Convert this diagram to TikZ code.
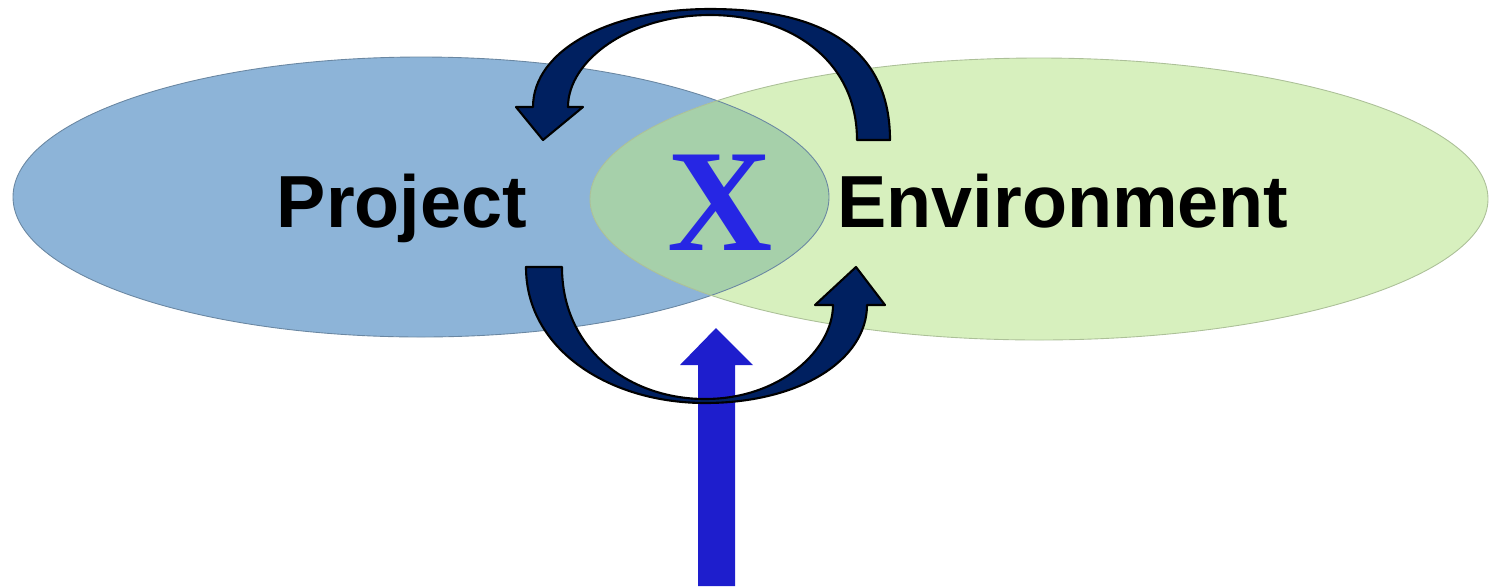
\documentclass[tikz,border=0pt]{standalone}
\usepackage{fontspec}
\setmainfont{Liberation Serif}
\newfontfamily\labelfont{Liberation Sans}
\usetikzlibrary{positioning}
\definecolor{projblue}{RGB}{141,180,216}
\definecolor{envgreen}{RGB}{215,240,190}
\definecolor{mixgreen}{RGB}{166,208,170}
\definecolor{navy}{RGB}{0,32,96}
\definecolor{xblue}{RGB}{38,38,228}
\definecolor{upblue}{RGB}{30,30,205}

\tikzset{
  labeltext/.style={font=\labelfont\bfseries\fontsize{42}{42}\selectfont, text=black, inner sep=0pt, anchor=base},
  cyclearrow/.style={fill=navy, draw=black, line width=1.2pt, line join=round},
}

\begin{document}
\begin{tikzpicture}[x=0.02cm, y=-0.02cm]
  \useasboundingbox (0,0) rectangle (1489,586);

  % the two sets
  \fill[projblue] (421,197) ellipse (408 and 140);
  \fill[envgreen] (1039,199) ellipse (449 and 141);
  \begin{scope}
    \clip (1039,199) ellipse (449 and 141);
    \fill[mixgreen] (421,197) ellipse (408 and 140);
  \end{scope}
  \draw[projblue!75!black, line width=0.5pt] (421,197) ellipse (408 and 140);
  \draw[envgreen!80!black, line width=0.5pt] (1039,199) ellipse (449 and 141);

  % labels
  \node[labeltext] (project) at (402,227) {Project};
  \node[labeltext] (environment) at (1063,227) {Environment};
  \node[inner sep=0pt, anchor=base, text=xblue,
        font=\bfseries\fontsize{83}{83}\selectfont] (cross) at (720,250) {X};

  % input arrow from below
  \fill[upblue] (698,586) -- (698,365) -- (680,365) -- (716,328)
    -- (753,365) -- (735,365) -- (735,586) -- cycle;

  % upper cycle arrow (environment to project)
  \draw[cyclearrow] (890,140) -- (857,140)
    .. controls (857,60) and (790,15) .. (710,15)
    .. controls (630,15) and (568,60) .. (568,107)
    -- (583,107) -- (543,140) -- (516,107) -- (533,107)
    .. controls (533,50) and (610,9) .. (710,9)
    .. controls (810,9) and (890,40) .. (890,140) -- cycle;

  % lower cycle arrow (project to environment)
  \draw[cyclearrow] (526,267) -- (562,267)
    .. controls (562,350) and (630,399) .. (705,399)
    .. controls (780,399) and (833,350) .. (833,305)
    -- (815,305) -- (856,267) -- (885,305) -- (867,305)
    .. controls (867,360) and (800,403) .. (705,403)
    .. controls (610,403) and (526,350) .. (526,267) -- cycle;
\end{tikzpicture}
\end{document}
